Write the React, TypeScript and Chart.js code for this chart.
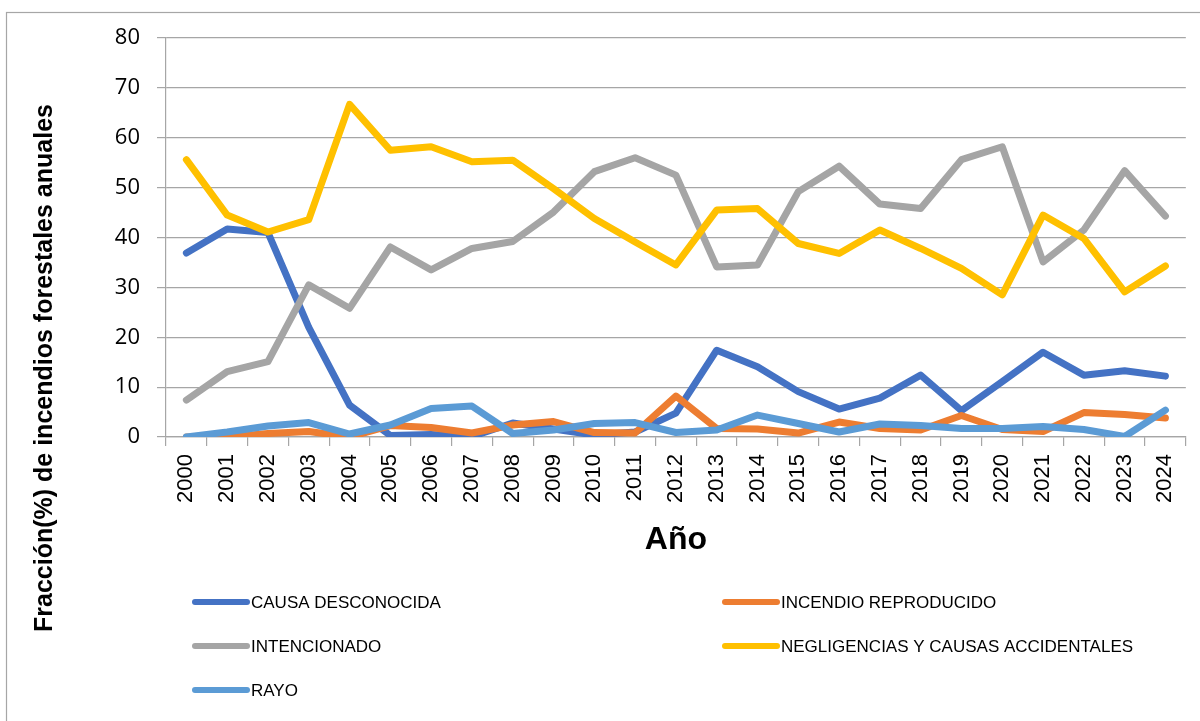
import React, { useEffect, useRef } from "react";
import { Chart, registerables } from "chart.js";

Chart.register(...registerables);

const years = [
  "2000", "2001", "2002", "2003", "2004", "2005", "2006", "2007", "2008", "2009",
  "2010", "2011", "2012", "2013", "2014", "2015", "2016", "2017", "2018", "2019",
  "2020", "2021", "2022", "2023", "2024",
];

const causaDesconocida = [36.9, 41.7, 41.0, 22.0, 6.4, 0.3, 0.5, 0.1, 2.8, 1.6, 0.4, 1.0, 4.8, 17.4, 14.1, 9.1, 5.6, 7.8, 12.4, 5.3, 11.1, 17.0, 12.4, 13.3, 12.2];
const incendioReproducido = [0, 0, 0.7, 1.1, 0, 2.3, 1.9, 0.8, 2.4, 3.1, 0.9, 0.8, 8.2, 1.7, 1.6, 0.8, 3.0, 1.7, 1.4, 4.3, 1.5, 1.1, 4.9, 4.5, 3.8];
const intencionado = [7.4, 13.1, 15.1, 30.5, 25.8, 38.1, 33.5, 37.8, 39.2, 45.1, 53.2, 56.0, 52.5, 34.1, 34.5, 49.2, 54.3, 46.7, 45.8, 55.6, 58.2, 35.1, 41.5, 53.4, 44.3];
const negligencias = [55.6, 44.5, 41.1, 43.6, 66.7, 57.5, 58.2, 55.2, 55.5, 49.8, 43.8, 39.1, 34.5, 45.5, 45.8, 38.8, 36.8, 41.5, 37.8, 33.8, 28.5, 44.5, 39.8, 29.1, 34.3];
const rayo = [0, 1.0, 2.2, 2.9, 0.6, 2.4, 5.7, 6.2, 0.7, 1.4, 2.7, 2.9, 0.9, 1.4, 4.4, 2.7, 1.0, 2.6, 2.3, 1.7, 1.7, 2.1, 1.5, 0.1, 5.4];

const seriesNames = [
  "CAUSA DESCONOCIDA",
  "INCENDIO REPRODUCIDO",
  "INTENCIONADO",
  "NEGLIGENCIAS Y CAUSAS ACCIDENTALES",
  "RAYO",
];
const seriesColors = ["#4472C4", "#ED7D31", "#A5A5A5", "#FFC000", "#5B9BD5"];
const seriesValues = [causaDesconocida, incendioReproducido, intencionado, negligencias, rayo];

const yTitle = "Fracción(%) de incendios forestales anuales";
const xTitle = "Año";

const gridColor = "#a6a6a6";

const framePlugin = {
  id: "frame",
  beforeDraw(chart: any) {
    const ctx = chart.ctx;
    ctx.save();
    ctx.fillStyle = "#ffffff";
    ctx.fillRect(0, 0, chart.width, chart.height);
    ctx.strokeStyle = gridColor;
    ctx.lineWidth = 1.2;
    ctx.strokeRect(6.5, 12.5, 1400, 900);
    ctx.restore();
  },
};

const yTitlePlugin = {
  id: "yTitleCustom",
  afterDraw(chart: any) {
    const ctx = chart.ctx;
    ctx.save();
    ctx.translate(45, 368);
    ctx.rotate(-Math.PI / 2);
    ctx.fillStyle = "#000000";
    ctx.font = 'bold 25px "Liberation Sans", Arial, sans-serif';
    ctx.textAlign = "center";
    ctx.textBaseline = "middle";
    ctx.fillText(yTitle, 0, 0);
    ctx.restore();
  },
};

const legendPlugin = {
  id: "gridLegend",
  afterDraw(chart: any) {
    const ctx = chart.ctx;
    chart.data.datasets.forEach((d: any, i: number) => {
      const col = i % 2;
      const row = Math.floor(i / 2);
      const x = col === 0 ? 192 : 722;
      const y = 602 + row * 44;
      ctx.save();
      ctx.strokeStyle = d.borderColor;
      ctx.lineWidth = 6;
      ctx.lineCap = "round";
      ctx.beginPath();
      ctx.moveTo(x + 3, y);
      ctx.lineTo(x + 55, y);
      ctx.stroke();
      ctx.fillStyle = "#000000";
      ctx.font = '17px "Liberation Sans", Arial, sans-serif';
      ctx.textAlign = "left";
      ctx.textBaseline = "middle";
      ctx.fillText(d.label, x + 59, y + 1);
      ctx.restore();
    });
  },
};

export default function App() {
  const canvasRef = useRef<HTMLCanvasElement | null>(null);

  useEffect(() => {
    if (!canvasRef.current) return;
    const chart = new Chart(canvasRef.current, {
      type: "line",
      data: {
        labels: years,
        datasets: seriesNames.map((name, i) => ({
          label: name,
          data: seriesValues[i],
          borderColor: seriesColors[i],
          backgroundColor: seriesColors[i],
          borderWidth: 7,
          pointRadius: 0,
          pointHoverRadius: 0,
          tension: 0,
          borderCapStyle: "round",
          borderJoinStyle: "round",
          fill: false,
          order: seriesNames.length - i,
        })),
      },
      options: {
        responsive: false,
        animation: false,
        layout: { padding: { left: 0, top: 38, right: 9, bottom: 154 } },
        plugins: {
          legend: { display: false },
          title: { display: false },
          tooltip: { enabled: false },
        },
        scales: {
          x: {
            type: "category",
            offset: true,
            grid: {
              display: true,
              offset: true,
              drawOnChartArea: false,
              drawTicks: true,
              tickLength: 9,
              color: gridColor,
              lineWidth: 1.2,
            },
            border: { display: true, color: gridColor, width: 1.2 },
            ticks: {
              autoSkip: false,
              maxRotation: 90,
              minRotation: 90,
              padding: 8,
              color: "#000000",
              font: { family: '"Liberation Sans", Arial, sans-serif', size: 22 },
            },
            title: {
              display: true,
              text: xTitle,
              color: "#000000",
              font: { family: '"Liberation Sans", Arial, sans-serif', size: 32, weight: "bold" },
              padding: { top: 0, bottom: 8 },
            },
            afterFit(scale: any) {
              scale.height = 130;
            },
          },
          y: {
            min: 0,
            max: 80,
            ticks: {
              stepSize: 10,
              padding: 17,
              color: "#000000",
              font: { family: '"Open Sans", sans-serif', size: 22 },
            },
            grid: {
              color: gridColor,
              lineWidth: 1.2,
              drawTicks: true,
              tickLength: 9,
            },
            border: { display: true, color: gridColor, width: 1.2 },
            afterFit(scale: any) {
              scale.width = 166;
            },
          },
        },
      },
      plugins: [framePlugin, yTitlePlugin, legendPlugin],
    } as any);
    return () => chart.destroy();
  }, []);

  return (
    <div style={{ position: "absolute", left: 0, top: 0, width: 1200, height: 721 }}>
      <canvas ref={canvasRef} width={1200} height={721} style={{ display: "block" }} />
    </div>
  );
}
